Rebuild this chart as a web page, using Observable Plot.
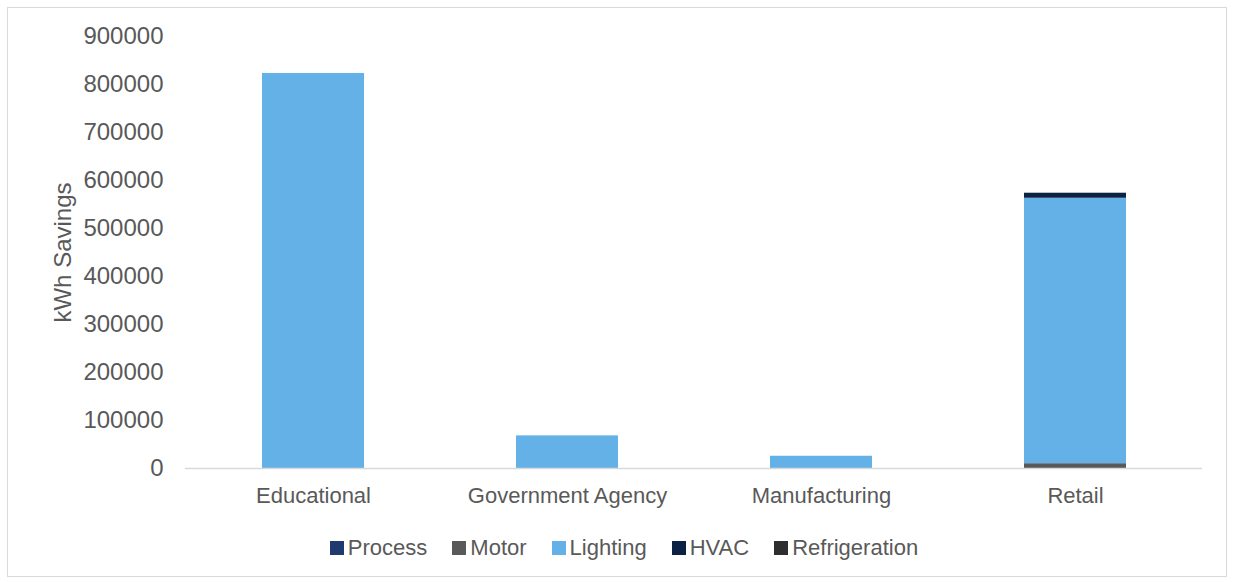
<!DOCTYPE html>
<html>
<head>
<meta charset="utf-8">
<script src="https://cdn.jsdelivr.net/npm/d3@7"></script>
<script src="https://cdn.jsdelivr.net/npm/@observablehq/plot@0.6"></script>
<style>
  html, body { margin: 0; padding: 0; background: #fff; }
  body { width: 1233px; height: 582px; position: relative; overflow: hidden;
         font-family: "Liberation Sans", Arial, sans-serif; }
  #frame { position: absolute; left: 7px; top: 7px; width: 1220px; height: 570px;
           border: 1px solid #d9d9d9; box-sizing: border-box; }
  #chart { position: absolute; left: 0; top: 0; }
  #legend { position: absolute; left: 0; width: 1233px; top: 535px; display: flex;
            justify-content: center; gap: 25px; font-size: 22px; color: #595959; padding-left: 15px; box-sizing: border-box; }
  #legend .item { display: flex; align-items: center; }
  #legend .sw { width: 14px; height: 14px; margin-right: 4px; }
</style>
</head>
<body>
<div id="frame"></div>
<div id="chart"></div>
<div id="legend"></div>
<script>
const categories = ["Educational", "Government Agency", "Manufacturing", "Retail"];
const seriesNames = ["Process", "Motor", "Lighting", "HVAC", "Refrigeration"];
const seriesColors = ["#1f3a6e", "#595959", "#63b1e6", "#0c2245", "#2e2e2e"];
const process = [0, 0, 0, 0];
const motor = [0, 0, 0, 10000];
const lighting = [823000, 68000, 25500, 553000];
const hvac = [0, 0, 0, 10500];
const refrigeration = [0, 0, 0, 0];
const yTicks = [0, 100000, 200000, 300000, 400000, 500000, 600000, 700000, 800000, 900000];

// stack order bottom -> top
const stackOrder = [
  ["Motor", motor], ["Refrigeration", refrigeration], ["Process", process],
  ["Lighting", lighting], ["HVAC", hvac]
];
const rows = [];
for (const [name, vals] of stackOrder) {
  categories.forEach((c, i) => rows.push({category: c, series: name, value: vals[i]}));
}

const W = 1233, H = 520;
const chart = Plot.plot({
  width: W,
  height: H,
  marginLeft: 185,
  marginRight: 31,
  marginTop: 36,
  marginBottom: H - 468,
  style: {fontFamily: '"Liberation Sans", Arial, sans-serif', fontSize: "22px", color: "#595959", background: "transparent"},
  x: {domain: categories, paddingInner: 0.6, paddingOuter: 0.3, align: 0.5, label: null},
  y: {domain: [0, 900000], label: null},
  color: {domain: seriesNames, range: seriesColors},
  marks: [
    Plot.axisY({ticks: yTicks, tickSize: 0, tickPadding: 22, tickFormat: d => String(d),
      label: "kWh Savings", labelAnchor: "center", labelArrow: "none", labelOffset: 132, fontSize: 24}),
    Plot.axisX({tickSize: 0, tickPadding: 19, label: null, fontSize: 22}),
    Plot.barY(rows, Plot.stackY({x: "category", y: "value", fill: "series", order: null})),
    Plot.ruleY([0], {stroke: "#d9d9d9", strokeWidth: 1.5})
  ]
});
document.getElementById("chart").appendChild(chart);

const legend = document.getElementById("legend");
seriesNames.forEach((n, i) => {
  const it = document.createElement("div");
  it.className = "item";
  const sw = document.createElement("div");
  sw.className = "sw";
  sw.style.background = seriesColors[i];
  const t = document.createElement("span");
  t.textContent = n;
  it.appendChild(sw); it.appendChild(t);
  legend.appendChild(it);
});
</script>
</body>
</html>
